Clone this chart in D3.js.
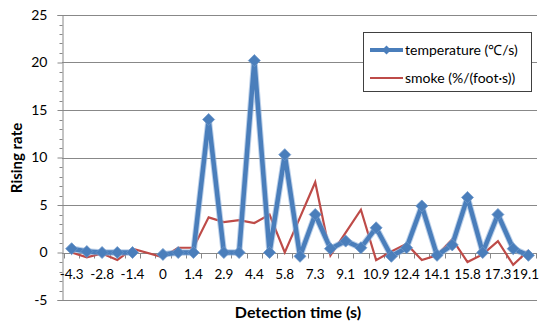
<!DOCTYPE html>
<html>
<head>
<meta charset="utf-8">
<script src="https://cdn.jsdelivr.net/npm/d3@7"></script>
<style>
  body { margin: 0; background: #fff; }
  svg text { font-family: Lato, "Open Sans", sans-serif; fill: #000; }
</style>
</head>
<body>
<svg></svg>
<script>
// detection time categories (every other one is labelled on the axis)
const times = [-4.3, -3.6, -2.8, -2.1, -1.4, -0.7, 0, 0.7, 1.4, 2.2, 2.9, 3.6, 4.4, 5.1, 5.8, 6.6,
  7.3, 8.2, 9.1, 10.0, 10.9, 11.7, 12.4, 13.3, 14.1, 15.0, 15.8, 16.6, 17.3, 18.2, 19.1];
const temperature = [0.4, 0.1, 0, 0, 0, null, -0.2, 0, 0, 14.0, 0, 0, 20.2, 0, 10.3, -0.4,
  4.0, 0.4, 1.2, 0.5, 2.6, -0.4, 0.5, 4.9, -0.3, 0.8, 5.8, 0, 4.0, 0.4, -0.3];
const smoke = [0, -0.5, -0.1, -0.8, 0.4, null, -0.5, 0.5, 0.5, 3.7, 3.2, 3.4, 3.1, 4.0, 0, 3.7,
  7.4, -0.3, 2.1, 4.5, -0.8, 0.1, 0.9, -0.8, -0.3, 1.4, -1.0, -0.2, 1.2, -1.3, 0.2];
const yTicks = [-5, 0, 5, 10, 15, 20, 25];
const seriesNames = ["temperature (\u2103/s)", "smoke (%/(foot\u00b7s))"];

const width = 540, height = 323;
const svg = d3.select('svg').attr('width', width).attr('height', height);

const plotL = 62, plotR = 537, plotT = 15, plotB = 300;
const blue = '#4a7ebb', red = '#be4b48', grid = '#888888';

const x = d3.scaleBand().domain(d3.range(times.length)).range([64, 536]);
const y = d3.scaleLinear().domain([-5, 25]).range([plotB, plotT]);
const cx = i => x(i) + x.bandwidth() / 2;

// gridlines
svg.append('g').selectAll('line').data(yTicks).enter().append('line')
  .attr('x1', plotL).attr('x2', plotR)
  .attr('y1', d => Math.round(y(d)) + 0.5).attr('y2', d => Math.round(y(d)) + 0.5)
  .attr('stroke', grid).attr('stroke-width', 1);

// y axis with minor ticks
const yAxis = d3.axisLeft(y).tickValues(yTicks).tickSize(5).tickPadding(10)
  .tickFormat(d => String(d));
const yAxisG = svg.append('g').attr('transform', `translate(${plotL + 0.5},0)`).call(yAxis);
yAxisG.select('.domain').attr('stroke', grid);
yAxisG.selectAll('.tick line').attr('stroke', grid);
yAxisG.selectAll('text').style('font-size', '14px').attr('fill', '#000');
yAxisG.append('g').selectAll('line').data(d3.range(-5, 26).filter(d => d % 5 !== 0)).enter()
  .append('line').attr('x1', -3).attr('x2', 0)
  .attr('y1', d => Math.round(y(d)) + 0.5).attr('y2', d => Math.round(y(d)) + 0.5)
  .attr('stroke', grid);

// x axis at zero, ticks between categories
const zeroY = Math.round(y(0)) + 0.5;
svg.append('line').attr('x1', plotL).attr('x2', plotR).attr('y1', zeroY).attr('y2', zeroY)
  .attr('stroke', grid);
svg.append('g').selectAll('line').data(d3.range(times.length + 1)).enter().append('line')
  .attr('x1', i => Math.round(x.range()[0] + i * x.step()) + 0.5)
  .attr('x2', i => Math.round(x.range()[0] + i * x.step()) + 0.5)
  .attr('y1', zeroY).attr('y2', zeroY + 5).attr('stroke', grid);

// category labels (low position); keep the last one inside the frame
svg.append('g').selectAll('text').data(times.map((t, i) => [t, i]).filter(d => d[1] % 2 === 0))
  .enter().append('text')
  .attr('x', d => cx(d[1])).attr('y', 279)
  .attr('text-anchor', 'middle').style('font-size', '13.5px')
  .text(d => d[0])
  .each(function() {
    const w = this.getComputedTextLength();
    const cxv = +this.getAttribute('x');
    if (cxv + w / 2 > width - 1) d3.select(this).attr('x', width - 1 - w / 2);
  });

// series
const smokePts = smoke.map((v, i) => [i, v]).filter(d => d[1] !== null);
svg.append('path').datum(smokePts)
  .attr('fill', 'none').attr('stroke', red).attr('stroke-width', 2.2)
  .attr('stroke-linejoin', 'miter')
  .attr('d', d3.line().x(d => cx(d[0])).y(d => y(d[1])));

const tempPts = temperature.map((v, i) => [i, v]);
const tempLine = d3.line().defined(d => d[1] !== null).x(d => cx(d[0])).y(d => y(d[1]));
svg.append('path').datum(tempPts)
  .attr('fill', 'none').attr('stroke', '#8fb0da').attr('stroke-width', 6.5)
  .attr('stroke-linejoin', 'round').attr('d', tempLine).attr('opacity', 0.6);
svg.append('path').datum(tempPts)
  .attr('fill', 'none').attr('stroke', blue).attr('stroke-width', 4.5)
  .attr('stroke-linejoin', 'round').attr('d', tempLine);

const diamond = (px, py, r) => `M${px},${py - r}L${px + r},${py}L${px},${py + r}L${px - r},${py}Z`;
svg.append('g').selectAll('path').data(tempPts.filter(d => d[1] !== null)).enter().append('path')
  .attr('d', d => diamond(cx(d[0]), y(d[1]), 6))
  .attr('fill', blue).attr('stroke', '#6d97c9').attr('stroke-width', 0.8);

// legend
const lg = svg.append('g');
lg.append('rect').attr('x', 363.5).attr('y', 32.5).attr('width', 168).attr('height', 59)
  .attr('fill', '#fff').attr('stroke', '#404040').attr('stroke-width', 1);
const rowY = [50, 78];
lg.append('line').attr('x1', 370).attr('x2', 403).attr('y1', rowY[0]).attr('y2', rowY[0])
  .attr('stroke', blue).attr('stroke-width', 4);
lg.append('path').attr('d', diamond(386.5, rowY[0], 4.5)).attr('fill', blue);
lg.append('line').attr('x1', 370).attr('x2', 403).attr('y1', rowY[1]).attr('y2', rowY[1])
  .attr('stroke', red).attr('stroke-width', 2.2);
lg.selectAll('text.lab').data(seriesNames).enter().append('text')
  .attr('x', 405).attr('y', (d, i) => rowY[i] + 5)
  .style('font-size', '14px').text(d => d);

// axis titles
svg.append('text').attr('x', 298).attr('y', 318).attr('text-anchor', 'middle')
  .style('font-size', '16px').style('font-weight', 'bold').text('Detection time (s)');
svg.append('text').attr('transform', 'translate(22,158) rotate(-90)').attr('text-anchor', 'middle')
  .style('font-size', '15px').style('font-weight', 'bold').text('Rising rate');
</script>
</body>
</html>
